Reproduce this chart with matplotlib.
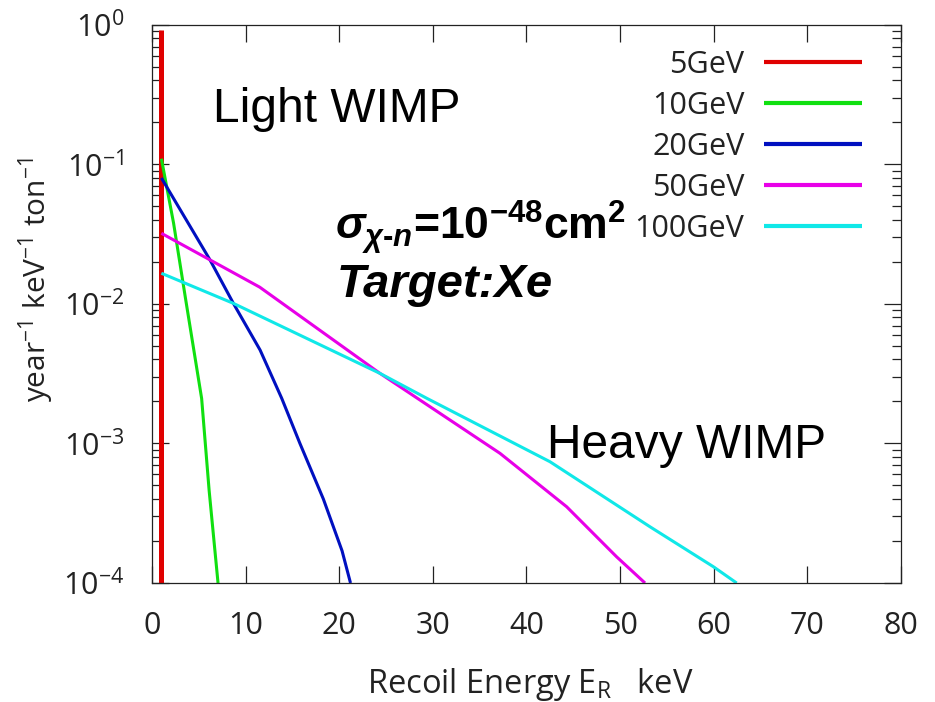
import matplotlib
matplotlib.use("Agg")
import matplotlib.pyplot as plt
from matplotlib.ticker import LogLocator, NullFormatter, MultipleLocator

plt.rcParams['font.family'] = ['Open Sans', 'DejaVu Sans']
plt.rcParams['mathtext.fontset'] = 'custom'
plt.rcParams['mathtext.rm'] = 'Liberation Sans:bold'
plt.rcParams['mathtext.it'] = 'Liberation Sans:italic:bold'
plt.rcParams['mathtext.bf'] = 'Liberation Sans:bold'

# recoil spectra (x in keV, y in /year/keV/ton)
x_5 = [1.0, 1.0]
y_5 = [1e-4, 0.92]
x_10 = [1.0, 2.3, 3.6, 5.3, 6.1, 7.05]
y_10 = [0.11, 0.038, 0.0107, 2.1e-3, 4.6e-4, 1e-4]
x_20 = [1.0, 6.19, 8.69, 11.54, 13.85, 15.8, 18.3, 20.3, 21.2]
y_20 = [0.08, 0.0207, 0.0101, 4.68e-3, 2.11e-3, 1e-3, 4e-4, 1.7e-4, 1e-4]
x_50 = [1.0, 6.19, 11.5, 24.35, 37.17, 44.29, 49.63, 52.66]
y_50 = [0.0321, 0.0207, 0.0132, 3.18e-3, 8.5e-4, 3.52e-4, 1.54e-4, 1e-4]
x_100 = [1.0, 8.69, 24.35, 29.34, 42.51, 53.19, 59.95, 62.45]
y_100 = [0.0166, 0.0101, 3.18e-3, 2.11e-3, 7.4e-4, 2.53e-4, 1.31e-4, 1e-4]

labels = ['5GeV', '10GeV', '20GeV', '50GeV', '100GeV']
colors = ['#e00000', '#10e010', '#0010c0', '#e800e8', '#10e8e8']
series = [(x_5, y_5), (x_10, y_10), (x_20, y_20), (x_50, y_50), (x_100, y_100)]

fig = plt.figure(figsize=(9.35, 7.02), dpi=100)
ax = fig.add_axes([0.1626, 0.1695, 0.801, 0.795])

for (xs, ys), lab, col in zip(series, labels, colors):
    lw = 3.6 if lab == '5GeV' else 2.2
    ax.plot(xs, ys, color=col, lw=lw, label=lab, solid_capstyle='butt')

ax.set_yscale('log')
ax.set_xlim(0, 80)
ax.set_ylim(1e-4, 1)
ax.xaxis.set_major_locator(MultipleLocator(10))
ax.yaxis.set_major_locator(LogLocator(base=10, numticks=10))
ax.yaxis.set_minor_locator(LogLocator(base=10, subs=range(2, 10), numticks=10))
ax.yaxis.set_minor_formatter(NullFormatter())

ax.tick_params(which='both', direction='in', top=True, right=True, width=0.9, color='#222222')
ax.tick_params(which='major', length=12, labelsize=22, labelcolor='#222222')
ax.tick_params(which='minor', length=6.5)
ax.tick_params(axis='y', pad=20)
ax.tick_params(axis='x', pad=20)
for sp in ax.spines.values():
    sp.set_linewidth(0.9)
    sp.set_color('#222222')

ax.set_xlabel(r'Recoil Energy E$_{\mathdefault{R}}$   keV', fontsize=23.5, color='#222222')
ax.set_ylabel(r'year$^{\mathdefault{-1}}$ keV$^{\mathdefault{-1}}$ ton$^{\mathdefault{-1}}$',
              fontsize=21.5, color='#222222')
ax.xaxis.set_label_coords(0.505, -0.148)
ax.yaxis.set_label_coords(-0.128, 0.543)

leg = ax.legend(loc='upper right', bbox_to_anchor=(0.948, 0.955), frameon=False,
                markerfirst=False, fontsize=22, handlelength=3.2, handletextpad=0.65,
                labelspacing=0.36, borderpad=0, borderaxespad=0)
for t in leg.get_texts():
    t.set_color('#222222')
for h in leg.get_lines():
    h.set_linewidth(3)

ax.text(0.081, 0.826, 'Light WIMP', transform=ax.transAxes, fontsize=34.5,
        family='Liberation Sans', va='baseline')
ax.text(0.527, 0.224, 'Heavy WIMP', transform=ax.transAxes, fontsize=34.5,
        family='Liberation Sans', va='baseline')
ax.text(0.244, 0.615, r'$\sigma_{\chi\text{-}n}$=10$^{\mathdefault{-48}}$cm$^{\mathdefault{2}}$',
        transform=ax.transAxes, fontsize=32, family='Liberation Sans', weight='bold',
        va='baseline')
ax.text(0.246, 0.513, 'Target:Xe', transform=ax.transAxes, fontsize=34,
        family='Liberation Sans', weight='bold', style='italic', va='baseline')

fig.savefig('out.png', dpi=100)
